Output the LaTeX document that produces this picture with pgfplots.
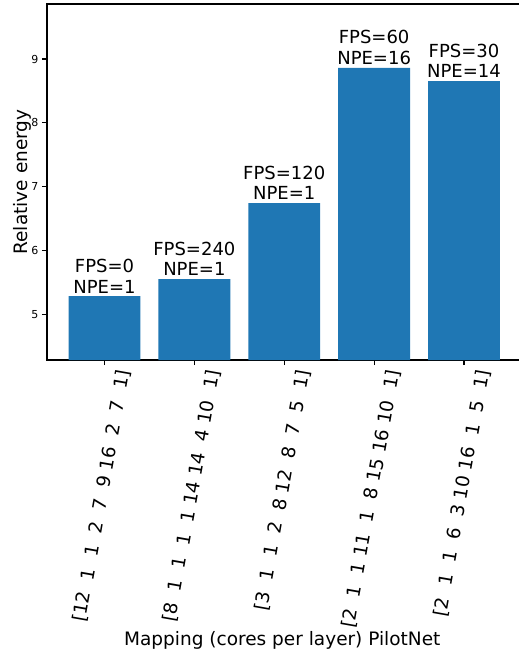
\documentclass[border=0pt]{standalone}
\usepackage{fontspec}
\setmainfont{DejaVu Sans}
\usepackage{pgfplots}
\pgfplotsset{compat=1.18}
\definecolor{mplblue}{HTML}{1F77B4}
\begin{document}
\begin{tikzpicture}
\begin{axis}[
  name=ax,
  scale only axis,
  width=474.5pt, height=356pt,
  xmin=-0.64, xmax=4.64,
  ymin=4.28, ymax=9.863,
  ytick={5,6,7,8,9},
  xtick={0,1,2,3,4},
  xticklabels={
    {[12\ \ 1\ \ 1\ \ 2\ \ 7\ \ 9 16\ \ 2\ \ 7\ \ 1]},
    {[8\ \ 1\ \ 1\ \ 1\ \ 1 14 14\ \ 4 10\ \ 1]},
    {[3\ \ 1\ \ 1\ \ 2\ \ 8 12\ \ 8\ \ 7\ \ 5\ \ 1]},
    {[2\ \ 1\ \ 1 11\ \ 1\ \ 8 15 16 10\ \ 1]},
    {[2\ \ 1\ \ 1\ \ 6\ \ 3 10 16\ \ 1\ \ 5\ \ 1]}},
  tick align=outside,
  tick pos=left,
  major tick length=5pt,
  every tick/.style={black, line width=1.1pt},
  axis line style={line width=1.1pt},
  /pgf/number format/assume math mode=true,
  yticklabel style={font=\fontsize{11}{13}\selectfont},
  xticklabel style={font=\fontsize{18.5}{20}\selectfont, inner sep=1pt, xshift=20pt, yshift=-4pt, rotate=80, anchor=east},
  xlabel={Mapping (cores per layer) PilotNet},
  ylabel={Relative energy},
  label style={font=\fontsize{18.5}{20}\selectfont},
  xlabel style={at={(axis description cs:0.5,-0.8006)}, anchor=base, xshift=-2pt},
  ylabel style={at={(axis description cs:-0.0404,0.5)}, anchor=base, rotate=0},
  ybar, bar width=0.8,
  point meta=explicit symbolic,
  nodes near coords,
  every node near coord/.append style={font=\fontsize{18}{20.5}\selectfont, align=center, anchor=south, inner sep=3pt, black},
]
\addplot[fill=mplblue, draw=none] coordinates {
  (0,5.28) [FPS=0\\NPE=1]
  (1,5.55) [FPS=240\\NPE=1]
  (2,6.74) [FPS=120\\NPE=1]
  (3,8.86) [FPS=60\\NPE=16]
  (4,8.655) [FPS=30\\NPE=14]
};
\end{axis}
\pgfresetboundingbox
\path[use as bounding box] ([xshift=-47pt,yshift=-292pt]ax.south west) rectangle ([xshift=-3.5pt,yshift=4pt]ax.north east);
\end{tikzpicture}
\end{document}
